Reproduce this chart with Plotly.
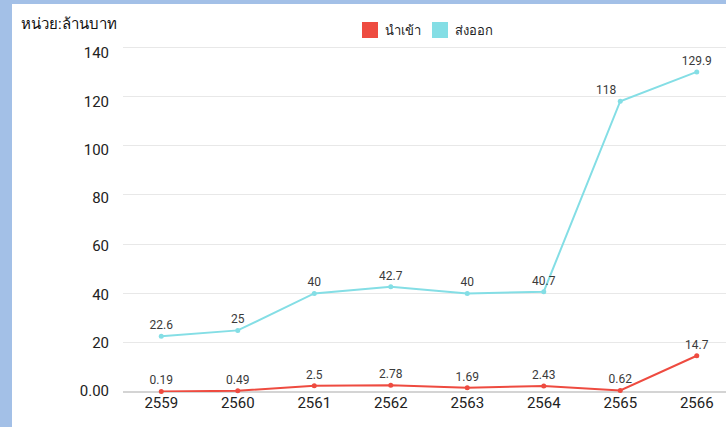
import plotly.graph_objects as go

years = ["2559", "2560", "2561", "2562", "2563", "2564", "2565", "2566"]
imports = [0.19, 0.49, 2.5, 2.78, 1.69, 2.43, 0.62, 14.7]
exports = [22.6, 25, 40, 42.7, 40, 40.7, 118, 129.9]
import_labels = ["0.19", "0.49", "2.5", "2.78", "1.69", "2.43", "0.62", "14.7"]
export_labels = ["22.6", "25", "40", "42.7", "40", "40.7", "118", "129.9"]
y_ticks = [0, 20, 40, 60, 80, 100, 120, 140]
y_ticktext = ["0.00", "20", "40", "60", "80", "100", "120", "140"]
name_import = "นำเข้า"
name_export = "ส่งออก"
unit_text = "หน่วย:ล้านบาท"

W, H = 726, 427
L, R, T, B = 123, 0, 40, 35
PW, PH = W - L - R, H - T - B

def px(x):
    return (x - L) / PW

def py(y):
    return (H - B - y) / PH

RED = "#ee4b40"
CYAN = "#84dee5"
FONT = "Roboto, Noto Sans, sans-serif"

fig = go.Figure()
fig.add_trace(go.Scatter(
    x=years, y=exports, mode="lines+markers+text", name=name_export,
    line=dict(color=CYAN, width=2), marker=dict(size=5, color=CYAN),
    text=export_labels,
    textposition=["top center"] * 6 + ["top left", "top center"],
    textfont=dict(size=12, color="#3a3a3a", family=FONT),
    cliponaxis=False, showlegend=False,
))
fig.add_trace(go.Scatter(
    x=years, y=imports, mode="lines+markers+text", name=name_import,
    line=dict(color=RED, width=2), marker=dict(size=5, color=RED),
    text=import_labels, textposition="top center",
    textfont=dict(size=12, color="#3a3a3a", family=FONT),
    cliponaxis=False, showlegend=False,
))
# invisible trace carrying the tick-label axis
fig.add_trace(go.Scatter(
    x=years[:1], y=[0], yaxis="y2", mode="markers", marker=dict(opacity=0),
    showlegend=False, hoverinfo="skip",
))

shapes = [
    dict(type="rect", xref="paper", yref="paper", x0=px(12), x1=px(W), y0=py(4), y1=py(H),
         fillcolor="white", line=dict(width=0), layer="below"),
    dict(type="rect", xref="paper", yref="paper", x0=px(362), x1=px(378), y0=py(22), y1=py(38),
         fillcolor=RED, line=dict(width=0)),
    dict(type="rect", xref="paper", yref="paper", x0=px(432), x1=px(448), y0=py(22), y1=py(38),
         fillcolor=CYAN, line=dict(width=0)),
]

annotations = [
    dict(text=unit_text, xref="paper", yref="paper", x=px(19), y=py(24), xanchor="left",
         yanchor="middle", showarrow=False, font=dict(size=15, color="#111111", family=FONT)),
    dict(text=name_import, xref="paper", yref="paper", x=px(383), y=py(30), xanchor="left",
         yanchor="middle", showarrow=False, font=dict(size=13, color="#222222", family=FONT)),
    dict(text=name_export, xref="paper", yref="paper", x=px(453), y=py(30), xanchor="left",
         yanchor="middle", showarrow=False, font=dict(size=13, color="#222222", family=FONT)),
]

grid_scale = 345 / 140      # px per unit for the plotted values
label_scale = 338 / 140     # px per unit for the tick-label axis
fig.update_layout(
    width=W, height=H,
    margin=dict(l=L, r=R, t=T, b=B, pad=0),
    paper_bgcolor="#a3c0e7", plot_bgcolor="white",
    shapes=shapes, annotations=annotations,
    font=dict(family=FONT),
    xaxis=dict(
        type="category", range=[-0.5, -0.5 + PW / 76.5], showgrid=False,
        tickfont=dict(size=15, color="#222222", family=FONT), ticks="", showline=False,
        zeroline=False,
    ),
    yaxis=dict(
        range=[0, PH / grid_scale], tickvals=y_ticks, showticklabels=False,
        showgrid=True, gridcolor="#e8e8e8", gridwidth=1,
        zeroline=True, zerolinecolor="#d4d4d4", zerolinewidth=2, ticks="",
    ),
    yaxis2=dict(
        overlaying="y", side="left", range=[-1 / label_scale, (391 - T) / label_scale],
        tickvals=y_ticks, ticktext=y_ticktext, showgrid=False, zeroline=False,
        tickfont=dict(size=15, color="#222222", family=FONT),
        ticklabelstandoff=13, ticks="", showline=False,
    ),
)
fig.write_html(
    "out.html",
    config={"displayModeBar": False},
    post_script="document.body.style.margin='0px';document.body.style.overflow='hidden';",
)
